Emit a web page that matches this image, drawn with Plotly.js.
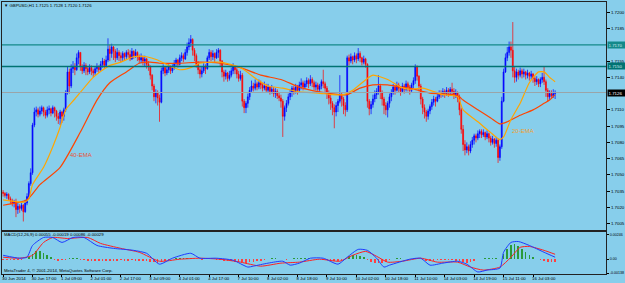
<!DOCTYPE html>
<html><head><meta charset="utf-8">
<script src="https://cdn.plot.ly/plotly-3.0.1.min.js"></script>
<style>html,body{margin:0;padding:0;background:#87ceeb;}#chart{width:625px;height:283px;}</style>
</head><body><div id="chart"></div>
<script>
// Prices are in pips above 1.7000 (1 pip = 0.0001), one value per H1 bar
const BASE = 1.7, PIP = 0.0001;
const firstOpen = 34;
const closes = [33,31,32,28,26,24,25,18,21,19,22,16,24,30,42,52,96,108,
110,106,109,112,108,105,110,111,107,112,109,104,102,108,104,110,
126,145,132,148,150,147,158,163,150,146,151,148,145,149,146,144,148,150,147,152,155,151,156,166,
162,168,164,158,163,160,158,162,159,163,161,157,164,160,163,159,156,158,155,157,152,
150,142,132,122,126,121,117,146,149,144,147,150,146,149,153,156,152,158,160,157,163,168,172,175,165,160,152,147,143,
146,150,148,158,163,159,162,158,163,165,155,145,141,144,139,142,146,150,147,143,139,142,
118,112,116,122,128,132,130,134,131,135,133,130,132,128,131,127,129,125,127,123,121,118,
104,112,116,122,126,130,127,131,128,133,135,131,134,137,134,138,135,131,133,129,132,136,
134,130,126,121,116,112,108,114,118,124,120,114,110,
158,155,159,156,160,157,162,158,154,157,152,
118,111,115,120,124,127,132,126,120,114,110,116,122,126,131,128,133,130,127,132,129,134,131,128,133,137,
150,141,132,120,112,108,104,109,113,117,120,118,122,126,124,127,125,128,126,129,127,124,126,121,
110,92,78,73,76,72,78,82,86,84,88,90,87,89,85,88,84,80,83,79,82,66,76,
118,145,158,163,168,165,146,140,145,142,146,143,145,142,144,141,143,139,136,138,134,138,140,136,128,122,125,123,125,126];
const highs = [36,34,34,33,30,28,27,28,24,23,24,23,27,33,44,56,98,112,
113,112,113,114,113,110,113,114,112,114,113,110,107,110,109,112,
128,150,148,152,155,153,162,165,163,152,154,153,150,152,151,148,150,153,151,155,158,157,160,176,
170,171,169,166,167,165,163,164,163,165,166,165,167,165,166,164,161,162,160,160,158,
155,151,143,134,129,128,124,149,152,150,150,152,151,152,156,158,157,161,163,162,166,172,176,179,176,167,162,155,150,
150,153,152,160,166,165,165,163,166,167,166,156,147,147,145,146,149,153,151,149,146,146,
144,120,118,125,131,137,135,138,136,138,137,135,136,134,134,132,133,131,130,129,126,124,
120,114,119,125,129,132,132,134,133,136,139,137,137,140,139,142,140,137,136,135,134,138,
147,136,132,128,124,118,115,117,120,142,126,122,117,
160,161,162,160,163,162,167,164,159,160,158,
153,120,118,124,128,130,142,134,128,122,117,118,125,129,134,133,136,135,132,135,134,137,136,133,135,140,
152,151,142,134,122,115,110,111,115,120,123,122,126,128,128,130,129,131,130,131,135,130,129,127,
124,112,96,82,80,78,81,85,88,88,91,92,92,92,90,91,89,86,86,84,85,83,78,
122,148,162,168,173,173,191,150,148,147,149,148,148,146,147,145,146,144,141,141,139,140,144,150,138,130,128,128,129,128];
const lows = [30,29,28,26,23,21,20,11,14,15,17,7,15,22,28,40,50,94,
104,103,104,106,104,102,103,106,104,106,103,100,97,96,98,100,
108,124,125,130,144,142,146,152,146,143,144,142,142,143,142,140,142,145,144,146,149,148,150,154,
155,158,156,154,156,155,154,155,156,157,158,155,156,157,158,155,153,153,151,150,148,
146,138,128,118,116,114,99,116,143,141,142,144,143,144,147,150,149,151,155,154,156,160,165,168,160,155,149,143,139,
140,144,143,147,156,155,156,154,157,158,150,140,136,138,136,137,140,143,143,139,136,137,
113,107,107,112,119,126,127,128,128,129,129,127,128,126,126,124,125,122,121,120,118,112,
85,100,108,114,119,122,124,125,124,126,129,128,129,131,130,132,131,128,128,126,126,129,
130,125,120,115,110,105,93,104,108,116,113,106,104,
108,151,153,152,154,153,155,154,151,152,149,
112,105,106,112,117,120,124,120,114,106,105,103,112,118,124,124,127,126,123,126,125,127,127,124,126,130,
134,137,127,115,106,102,99,101,106,110,114,113,117,120,121,122,121,123,122,123,124,120,121,117,
105,88,72,68,70,68,70,75,78,80,82,84,84,85,82,83,80,77,78,75,76,61,63,
74,117,144,155,160,158,140,135,136,138,140,139,140,138,139,137,138,135,132,133,131,131,135,133,122,118,119,121,121,120];

// 20-EMA and 40-EMA (bar index, pips)
const ema20Bars = [0,12,14,16,22,27,31,34,39,49,58,64,71,78,84,91,96,102,107,118,129,138,144,152,161,171,179,185,190,198,201,209,216,221,228,239,247,250,258,265,270,272,276,281,286,291,294,297,300];
const ema20Vals = [27,25,28,41,57,76,94,110,120,140,151,154,159,159,156,150,147,149,153,154,149,138,132,130,126.5,125.5,124,124,128,139,142,138,131,129,130,124,122,110,99,89,82.5,85,101,116,135,145,145,140,136];
const ema40Bars = [0,13,20,31,42,51,58,67,74,80,85,96,107,118,129,140,151,161,172,183,187,194,201,209,216,221,232,245,248,250,258,265,270,274,281,288,294,297,300];
const ema40Vals = [22,27,41,57,89.5,119,135,145,153,154,153,153,154,153,149,142,138,131,126.5,124,124,130,133,133,131,130,125.5,124,122,119,110,102.5,97,99,105,110,116,119,124];

// MACD (units of 0.0001)
const macdBars = [0,9,13,16,22,27,32,38,44,51,60,71,78,85,92,102,107,116,125,133,136,144,152,156,161,167,174,182,187,193,198,203,207,210,221,227,232,239,247,252,258,263,270,272,276,280,286,294,300];
const macdVals = [3.9,1,2,13.7,21.6,21.6,16.7,21.6,21.6,13.7,10.8,8.8,5.9,-4.9,1,5.9,1,1,-1,-7.8,-6.9,-3.9,-2,-5.9,-3.9,1,1,-4.9,2,9.8,8.8,1,-7.8,-5.9,0,1,-5.9,-3.9,-2,-4.9,-12.7,-10.8,-8.8,6.9,16.7,17.6,13.7,6.9,2];
const signalBars = [0,9,16,22,27,35,46,53,64,74,85,96,107,118,129,140,151,161,172,183,190,197,203,209,217,227,236,247,254,261,270,276,281,286,294,300];
const signalVals = [2,1,3.9,16.7,21.6,20.6,21.6,15.7,10.8,6.9,-2,0,1,0,-2.9,-6.9,-3.9,-2.9,0,-2,3.9,7.8,2.9,-2.9,-2,1,-2.9,-2.9,-7.8,-10.8,-7.8,2,11.8,12.7,8.8,4.9];
// histogram, one value every second bar
const histVals = [-0.5,-0.5,-1,-1,-0.5,-0.5, 0.5,2,5, 8.5,8,6, 4,2, -1,-1.5,-1,-0.5, 1,1.5,1,
-0.5,-1,-1.5,-2,-2,-1.5, -1.5,-1.5,-2,-1.5,-1.5,-1,-1.5,-1.5,-1,-1.5, -1.5,-2,-2,-2.5,-3,-3.5, -3,-2,-1,
0.5,1,1,1.5,1,1,0.5, 0,-0.5,0,0.5,0,-0.5,-1, -1.5,-2,-2,-2.5,-3,-3,-3.5,-3,-2.5,-2,-1.5,
-0.5,0.5,1,1,0.5,0,-0.5,0.5,1,1, 1,1.5,1,0.5,0,0,-0.5, -1,-1.5,-2,-1.5,-0.5, 1,3,4.5,4,3,2,
-1,-2.5,-3.5,-4,-3.5,-3, -1,0.5,1,1,0.5,0.5, 0.5,1,0,-1,-2,-2,-1.5,-1,
-0.5,-1,-1,-1,-1.5,-2,-3,-3.5,-3,-2, 0,0.5,1,1,1,1,0.5, 5,10,14,15,13,10,7, 4,2,0.5,-1, -2,-2.5,-3,-3];

const timeLabels = ["30 Jun 2014","30 Jun 17:00","1 Jul 09:00","2 Jul 01:00","2 Jul 17:00","3 Jul 09:00","4 Jul 01:00","4 Jul 17:00","7 Jul 10:00","8 Jul 02:00","8 Jul 18:00","9 Jul 10:00","10 Jul 02:00","10 Jul 18:00","11 Jul 10:00","14 Jul 03:00","14 Jul 19:00","15 Jul 11:00","16 Jul 03:00"];
// 1.7125 and 1.7170 sit under the price boxes, so they are not drawn as plain labels
const priceTicks = [1.7005,1.7020,1.7035,1.7050,1.7065,1.7080,1.7095,1.7110,1.7140,1.7155,1.7185,1.7200];
const macdTicks = [0.00246,0,-0.00138];
const macdTickText = ["0.00246","0.00","-0.00138"];
const levelLines = [1.7170, 1.7150];
const bidPrice = 1.7126;
const headerText = "GBPUSD,H1 1.7125 1.7128 1.7120 1.7126";
const macdText = "MACD(12,26,9) 0.00055 -0.00019 0.00086 -0.00029";
const footerText = "MetaTrader 4, © 2001-2014, MetaQuotes Software Corp.";

const px = v => BASE + v * PIP;
const bars = closes.map((_, i) => i);
const opens = closes.map((c, i) => i === 0 ? firstOpen : closes[i - 1]);
const TF = 'Liberation Sans, Arial, sans-serif';

const traces = [
  {type:'candlestick', x:bars, open:opens.map(px), high:highs.map(px), low:lows.map(px), close:closes.map(px),
   xaxis:'x', yaxis:'y', whiskerwidth:0,
   increasing:{line:{color:'#0000ff', width:0.7}, fillcolor:'#0000ff'},
   decreasing:{line:{color:'#ff0000', width:0.7}, fillcolor:'#ff0000'}, hoverinfo:'skip'},
  {type:'scatter', mode:'lines', x:ema40Bars, y:ema40Vals.map(px), xaxis:'x', yaxis:'y', line:{color:'#ff4500', width:1.2, shape:'spline', smoothing:0.6}},
  {type:'scatter', mode:'lines', x:ema20Bars, y:ema20Vals.map(px), xaxis:'x', yaxis:'y', line:{color:'#ffa500', width:1.2, shape:'spline', smoothing:0.6}},
  {type:'bar', x:histVals.map((_, i) => i * 2), y:histVals.map(v => v * PIP), xaxis:'x2', yaxis:'y2', width:0.9,
   marker:{color:histVals.map(v => v >= 0 ? '#2a9a3a' : '#ff4040'), line:{width:0}}},
  {type:'scatter', mode:'lines', x:signalBars, y:signalVals.map(v => v * PIP), xaxis:'x2', yaxis:'y2', line:{color:'#ff2020', width:1, shape:'spline', smoothing:0.6}},
  {type:'scatter', mode:'lines', x:macdBars, y:macdVals.map(v => v * PIP), xaxis:'x2', yaxis:'y2', line:{color:'#1e3cff', width:1, shape:'spline', smoothing:0.6}}
];

const XR = [-0.6, 327.66];
const axisLine = {showline:true, linecolor:'#222', linewidth:1, mirror:true, showgrid:false, zeroline:false};
const shapes = levelLines.map((v, i) => ({type:'line', xref:'paper', x0:0, x1:1, yref:'y', y0:v, y1:v,
  line:{color: i === 0 ? '#14898a' : '#007373', width:1.3}}));
shapes.push({type:'line', xref:'paper', x0:0, x1:1, yref:'y', y0:bidPrice, y1:bidPrice, line:{color:'#9aa4a8', width:1}});

const boxAnn = (val, bg, fg) => ({xref:'paper', x:1, xanchor:'left', xshift:1, yref:'y', y:val, yanchor:'middle',
  text:val.toFixed(4), showarrow:false, bgcolor:bg, font:{family:TF, size:4.4, color:fg}, borderpad:0.5, width:17, height:5, align:'left'});

const annotations = [
  {xref:'paper', yref:'paper', x:0.0, y:0.988, xanchor:'left', yanchor:'middle', showarrow:false,
   text:'▼ ' + headerText, font:{family:TF, size:4.3, color:'#000'}},
  {xref:'paper', yref:'paper', x:0.0, y:0.1434, xanchor:'left', yanchor:'middle', showarrow:false,
   text:macdText, font:{family:TF, size:4.3, color:'#000'}},
  {xref:'paper', yref:'paper', x:0.0, y:0.0129, xanchor:'left', yanchor:'middle', showarrow:false,
   text:footerText, font:{family:TF, size:4.3, color:'#000'}},
  {xref:'x', yref:'y', x:42.2, y:1.70684, showarrow:false, text:'40-EMA', font:{family:TF, size:6, color:'#e8553a'}},
  {xref:'x', yref:'y', x:282.4, y:1.70908, showarrow:false, text:'20-EMA', font:{family:TF, size:6, color:'#f0a030'}},
  boxAnn(levelLines[0], '#14898a', '#d8eeee'),
  boxAnn(levelLines[1], '#007373', '#d8eeee'),
  boxAnn(bidPrice, '#000000', '#ffffff')
];

const layout = {
  width:625, height:283, margin:{l:2, r:19, t:2, b:9, pad:0},
  paper_bgcolor:'#87ceeb', plot_bgcolor:'#87ceeb', showlegend:false,
  font:{family:TF, size:4.3, color:'#000'},
  xaxis:Object.assign({domain:[0,1], anchor:'y', range:XR, showticklabels:false, ticks:'', rangeslider:{visible:false}}, axisLine),
  xaxis2:Object.assign({domain:[0,1], anchor:'y2', range:XR, tickmode:'array', tickvals:timeLabels.map((_, k) => k * 16), ticktext:timeLabels,
    tickangle:0, ticks:'outside', ticklen:2, tickcolor:'#000', ticklabelposition:'outside right', ticklabelshift:-2, ticklabelstandoff:0,
    tickfont:{family:TF, size:4.3, color:'#000'}}, axisLine),
  yaxis:Object.assign({domain:[0.162,1], anchor:'x', side:'right', range:[1.69992, 1.72095], tickmode:'array', tickvals:priceTicks,
    tickformat:'.4f', ticks:'outside', ticklen:3, tickcolor:'#000', tickfont:{family:TF, size:4.4, color:'#000'}}, axisLine),
  yaxis2:Object.assign({domain:[0,0.156], anchor:'x2', side:'right', range:[-0.00147, 0.00275], tickmode:'array', tickvals:macdTicks, ticktext:macdTickText,
    ticks:'outside', ticklen:2, tickcolor:'#000', ticklabelstandoff:0, tickfont:{family:TF, size:3.6, color:'#000'}}, axisLine),
  shapes:shapes, annotations:annotations, bargap:0
};

Plotly.newPlot('chart', traces, layout, {staticPlot:true, displayModeBar:false});
</script></body></html>
